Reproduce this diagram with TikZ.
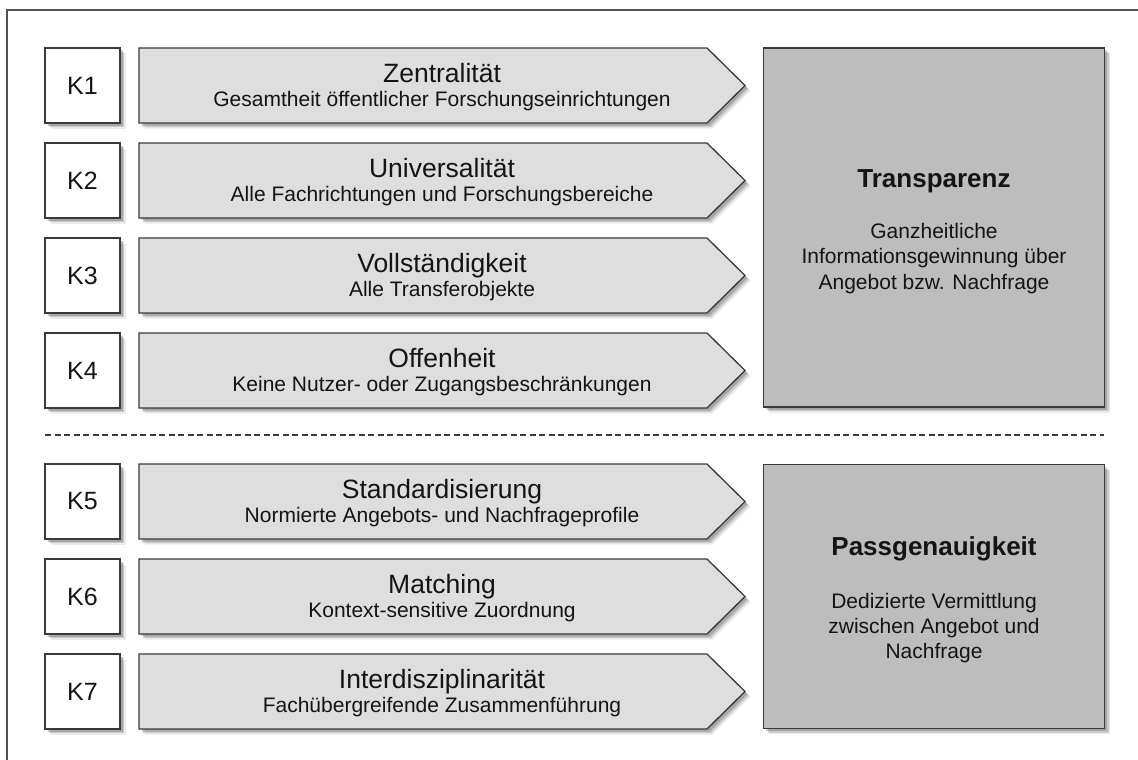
\documentclass[tikz,border=0pt]{standalone}
\usepackage{fontspec}
\setmainfont{Liberation Sans}
\usetikzlibrary{shadows}
\definecolor{framegray}{HTML}{505050}
\definecolor{edgegray}{HTML}{3A3A3A}
\definecolor{arrowfill}{HTML}{DEDEDE}
\definecolor{goalfill}{HTML}{BDBDBD}
\definecolor{inkgray}{HTML}{141414}
\tikzset{
  softshadow/.style={
    general shadow={fill=black, opacity=0.08, shadow xshift=5.5pt, shadow yshift=-5.5pt},
    general shadow={fill=black, opacity=0.14, shadow xshift=4pt, shadow yshift=-4pt},
    general shadow={fill=black, opacity=0.18, shadow xshift=2.5pt, shadow yshift=-2.5pt}},
  kbox/.style={draw=edgegray, line width=1.3pt, fill=white, softshadow, text=inkgray,
    minimum width=75pt, minimum height=75pt, inner sep=0pt, font=\fontsize{25}{28}\selectfont},
  critshape/.style={draw=edgegray, line width=1.3pt, fill=arrowfill, softshadow},
  crittitle/.style={anchor=base, inner sep=0pt, text=inkgray, font=\fontsize{26.5}{30}\selectfont},
  critsub/.style={anchor=base, inner sep=0pt, text=inkgray, font=\fontsize{21}{24}\selectfont},
  goalbox/.style={draw=edgegray, line width=1.3pt, fill=goalfill, softshadow,
    minimum width=341pt, inner sep=0pt},
  goaltitle/.style={anchor=base, inner sep=0pt, text=inkgray, font=\bfseries\fontsize{26}{30}\selectfont},
  goalline/.style={anchor=base, inner sep=0pt, text=inkgray, font=\fontsize{21}{24}\selectfont},
}
% one criterion row: label box, arrow-shaped band, heading and description
% #1 = vertical centre, #2 = index, #3 = heading, #4 = description
\newcommand{\critrow}[4]{%
  \node[kbox] (k#2) at (82.5,#1) {K#2};
  \path[critshape] (139,#1-37.5) -- (707,#1-37.5) -- (745,#1) -- (707,#1+37.5)
    -- (139,#1+37.5) -- cycle;
  \coordinate (a#2) at (442,#1);
  \node[crittitle] (a#2t) at (442,#1-3) {#3};
  \node[critsub] (a#2s) at (442,#1+21) {#4};
}
\begin{document}
\begin{tikzpicture}[x=1pt,y=-1pt]
  \useasboundingbox (0,0) rectangle (1138,760);
  % frame lines at the left and top
  \draw[framegray, line width=1.2pt] (7,760) -- (7,10) -- (1138,10);

  % criteria K1--K4 and their goal
  \critrow{85.5}{1}{Zentralität}{Gesamtheit öffentlicher Forschungseinrichtungen}
  \critrow{180.5}{2}{Universalität}{Alle Fachrichtungen und Forschungsbereiche}
  \critrow{275.5}{3}{Vollständigkeit}{Alle Transferobjekte}
  \critrow{370.5}{4}{Offenheit}{Keine Nutzer- oder Zugangsbeschränkungen}
  \node[goalbox, minimum height=359pt] (g1) at (934,227.5) {};
  \node[goaltitle] (g1t) at (934,187) {Transparenz};
  \node[goalline] (g1a) at (934,238) {Ganzheitliche};
  \node[goalline] (g1b) at (934,263.5) {Informationsgewinnung über};
  \node[goalline] (g1c) at (934,289) {Angebot bzw. Nachfrage};

  % separator
  \coordinate (sepL) at (45,435);
  \coordinate (sepR) at (1104,435);
  \draw[edgegray, line width=1.5pt, dash pattern=on 6pt off 3.5pt] (sepL) -- (sepR);

  % criteria K5--K7 and their goal
  \critrow{501.5}{5}{Standardisierung}{Normierte Angebots- und Nachfrageprofile}
  \critrow{596.5}{6}{Matching}{Kontext-sensitive Zuordnung}
  \critrow{691.5}{7}{Interdisziplinarität}{Fachübergreifende Zusammenführung}
  \node[goalbox, minimum height=264pt] (g2) at (934,596.5) {};
  \node[goaltitle] (g2t) at (934,555) {Passgenauigkeit};
  \node[goalline] (g2a) at (934,608) {Dedizierte Vermittlung};
  \node[goalline] (g2b) at (934,633) {zwischen Angebot und};
  \node[goalline] (g2c) at (934,658) {Nachfrage};
\end{tikzpicture}
\end{document}
